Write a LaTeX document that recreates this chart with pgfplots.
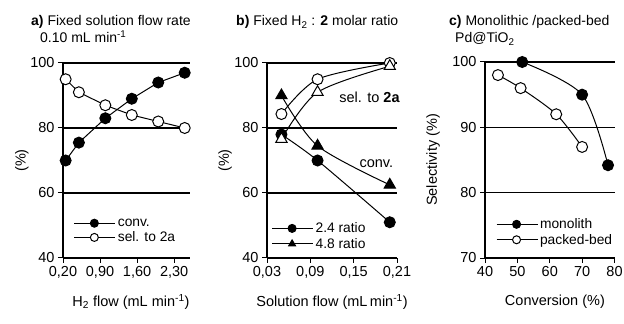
\documentclass[border=0pt]{standalone}
\usepackage{fontspec}
\setmainfont{Liberation Sans}
\usepackage{pgfplots}
\pgfplotsset{compat=1.18}
\newcommand\myfont{\fontsize{14.5bp}{17bp}\selectfont}
\newcommand\lgfont{\fontsize{13.8bp}{16bp}\selectfont}
\newcommand\lblfont{\fontsize{14.5bp}{17bp}\selectfont}
\newcommand\ttlfont{\fontsize{14bp}{16bp}\selectfont}
\pgfplotsset{
  myaxis/.style={
    scale only axis,
    axis x line*=bottom, axis y line*=left,
    ymajorgrids, grid style={black, line width=1.2bp},
    axis line style={black, line width=1.2bp},
    tick style={black, line width=1bp},
    tick align=outside, major tick length=5bp,
    /pgf/number format/assume math mode=true,
    tick label style={font=\myfont},
    legend style={draw=none, fill=none, font=\lgfont, row sep=0bp, inner sep=0.5bp},
    legend cell align=left,
    legend image code/.code={\draw[mark repeat=2,mark phase=2,mark size=4bp] plot coordinates {(0bp,0bp)(20bp,0bp)(41bp,0bp)};},
    every axis plot/.append style={black, line width=1bp},
    clip=false,
    every axis y label/.style={rotate=90, anchor=center, font=\lblfont},
    every axis x label/.style={anchor=center, font=\lblfont},
  },
  fc/.style={mark=*, mark size=5.5bp, mark options={fill=black, solid}},
  oc/.style={mark=*, mark size=5.5bp, mark options={fill=white, solid}},
  ft/.style={mark=triangle*, mark size=6.5bp, mark options={fill=black, solid}},
  ot/.style={mark=triangle*, mark size=6.5bp, mark options={fill=white, solid}},
}
\begin{document}
\begin{tikzpicture}
\path[use as bounding box] (0,0) rectangle (624bp,324bp);

% ---------- panel a
\begin{axis}[myaxis,
  at={(63bp,66bp)}, anchor=south west,
  width=127bp, height=195bp,
  xmin=0.2, xmax=2.6, ymin=40, ymax=100,
  xtick={0.2,0.9,1.6,2.3}, xticklabels={{0,20},{0,90},{1,60},{2,30}},
  ytick={40,60,80,100},
  xlabel={H\textsubscript{2} flow (mL min\textsuperscript{-1})},
  ylabel={(\%)},
  xlabel style={at={(axis description cs:0.535,-0.226)}},
  ylabel style={at={(axis description cs:-0.323,0.5)}},
  legend style={at={(axis description cs:0.08,0.215)}, anchor=north west},
]
\addplot[fc] coordinates {(0.25,70) (0.5,75.5) (1.0,83) (1.5,89) (2.0,94) (2.5,97)};
\addlegendentry{conv.}
\addplot[oc] coordinates {(0.25,95) (0.5,91) (1.0,87) (1.5,84) (2.0,82) (2.5,80)};
\addlegendentry{sel. to 2a}
\end{axis}

% ---------- panel b
\begin{axis}[myaxis,
  at={(267bp,66bp)}, anchor=south west,
  width=130bp, height=195bp,
  xmin=0.03, xmax=0.21, ymin=40, ymax=100,
  xtick={0.03,0.09,0.15,0.21}, xticklabels={{0,03},{0,09},{0,15},{0,21}},
  ytick={40,60,80,100},
  xlabel={Solution flow (mL\,min\textsuperscript{-1})},
  ylabel={(\%)},
  xlabel style={at={(axis description cs:0.5,-0.226)}},
  ylabel style={at={(axis description cs:-0.323,0.5)}},
  legend style={at={(axis description cs:0.03,0.195)}, anchor=north west},
]
\addplot[fc, smooth] coordinates {(0.05,78) (0.1,70) (0.2,51)};
\addlegendentry{2.4 ratio}
\addplot[ft, smooth] coordinates {(0.05,90) (0.1,74.5) (0.2,62.5)};
\addlegendentry{4.8 ratio}
\addplot[oc, smooth, forget plot] coordinates {(0.05,84.3) (0.1,95) (0.2,100)};
\addplot[ot, smooth, forget plot] coordinates {(0.05,76.6) (0.1,91) (0.2,99)};
\node[anchor=east, font=\myfont, inner sep=0pt] at (axis cs:0.214,89.3) {sel. to \textbf{2a}};
\node[anchor=east, font=\myfont, inner sep=0pt] at (axis cs:0.205,69) {conv.};
\end{axis}

% ---------- panel c
\begin{axis}[myaxis,
  at={(485bp,66bp)}, anchor=south west,
  width=129.5bp, height=196bp,
  xmin=40, xmax=80, ymin=70, ymax=100,
  xtick={40,50,60,70,80},
  ytick={70,80,90,100},
  xlabel={Conversion (\%)},
  ylabel={Selectivity (\%)},
  xlabel style={at={(axis description cs:0.54,-0.224)}},
  ylabel style={at={(axis description cs:-0.40,0.5)}},
  legend style={at={(axis description cs:0.08,0.215)}, anchor=north west},
]
\addplot[fc, smooth] coordinates {(51.5,100) (70,95) (78,84.2)};
\addlegendentry{monolith}
\addplot[oc, smooth] coordinates {(44,98) (51,96) (62,92) (70,87)};
\addlegendentry{packed-bed}
\end{axis}

% ---------- titles
\node[anchor=base west, inner sep=0pt, font=\ttlfont] at (31bp,298bp) {\textbf{a)} Fixed solution flow rate};
\node[anchor=base west, inner sep=0pt, font=\ttlfont] at (40bp,281bp) {0.10 mL min\textsuperscript{-1}};
\node[anchor=base west, inner sep=0pt, font=\ttlfont] at (236bp,298bp) {\textbf{b)} Fixed H\textsubscript{2} : \textbf{2} molar ratio};
\node[anchor=base west, inner sep=0pt, font=\ttlfont] at (449bp,298bp) {\textbf{c)} Monolithic /packed-bed};
\node[anchor=base west, inner sep=0pt, font=\ttlfont] at (455bp,281bp) {Pd@TiO\textsubscript{2}};
\end{tikzpicture}
\end{document}
